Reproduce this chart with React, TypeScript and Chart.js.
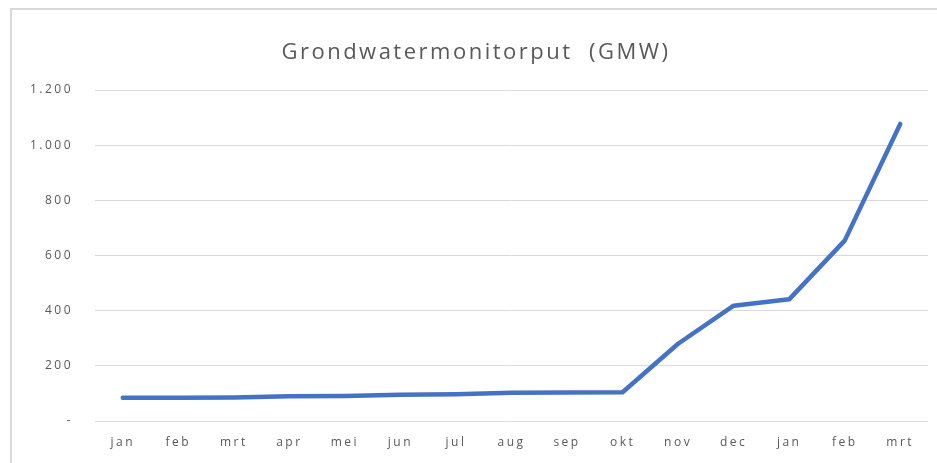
import React, { useEffect, useRef } from "react";
import { Chart, registerables } from "chart.js";

Chart.register(...registerables);

const categories = ["jan", "feb", "mrt", "apr", "mei", "jun", "jul", "aug", "sep", "okt", "nov", "dec", "jan", "feb", "mrt"];
const values = [84, 84, 85, 90, 91, 95, 97, 102, 103, 104, 280, 418, 441, 654, 1077];
const yTicks = [0, 200, 400, 600, 800, 1000, 1200];
const titleText = "Grondwatermonitorput  (GMW)";

const fmt = (v: number) => (v === 0 ? "-" : v.toLocaleString("de-DE"));

const spacingPlugin = {
  id: "spacing",
  beforeLayout: (chart: any) => {
    chart.ctx.letterSpacing = "2.5px";
  },
  beforeDraw: (chart: any) => {
    chart.ctx.letterSpacing = "2.5px";
  },
};

export default function App() {
  const ref = useRef<HTMLCanvasElement | null>(null);
  useEffect(() => {
    if (!ref.current) return;
    const chart = new Chart(ref.current, {
      type: "line",
      data: {
        labels: categories,
        datasets: [
          {
            data: values,
            borderColor: "#4472C4",
            backgroundColor: "#4472C4",
            borderWidth: 4.5,
            pointRadius: 0,
            tension: 0,
            borderCapStyle: "round",
            borderJoinStyle: "round",
          },
        ],
      },
      plugins: [spacingPlugin],
      options: {
        animation: false,
        responsive: false,
        maintainAspectRatio: false,
        layout: { padding: { left: 24, right: 9, top: 0, bottom: 0 } },
        plugins: {
          legend: { display: false },
          tooltip: { enabled: false },
          title: {
            display: true,
            text: titleText,
            color: "#595959",
            font: { family: "'Open Sans', sans-serif", size: 22, weight: "normal", lineHeight: 1.2 },
            padding: { top: 40, bottom: 23.6 },
          },
        },
        scales: {
          x: {
            offset: true,
            grid: { display: false, drawTicks: false },
            border: { display: false },
            ticks: {
              color: "#595959",
              font: { family: "'Open Sans', sans-serif", size: 12 },
              padding: 14,
              maxRotation: 0,
              autoSkip: false,
            },
            afterFit: (s: any) => {
              s.height = 42;
            },
          },
          y: {
            min: 0,
            max: 1200,
            afterBuildTicks: (s: any) => {
              s.ticks = yTicks.map((v) => ({ value: v }));
            },
            grid: { color: "#d9d9d9", lineWidth: 1, drawTicks: false },
            border: { display: false },
            ticks: {
              color: "#595959",
              font: { family: "'Open Sans', sans-serif", size: 12 },
              padding: 22,
              callback: (v: any) => fmt(Number(v)),
            },
            afterFit: (s: any) => {
              s.width = 71;
            },
          },
        },
      },
    });
    return () => chart.destroy();
  }, []);
  return (
    <div style={{ position: "fixed", left: 0, top: 0, width: 937, height: 463, background: "#fff" }}>
      <div
        style={{
          position: "absolute",
          left: 10,
          top: 8,
          width: 940,
          height: 470,
          borderLeft: "2px solid #d9d9d9",
          borderTop: "2px solid #d9d9d9",
        }}
      />
      <canvas ref={ref} width={937} height={463} style={{ position: "absolute", left: 0, top: 0 }} />
    </div>
  );
}
